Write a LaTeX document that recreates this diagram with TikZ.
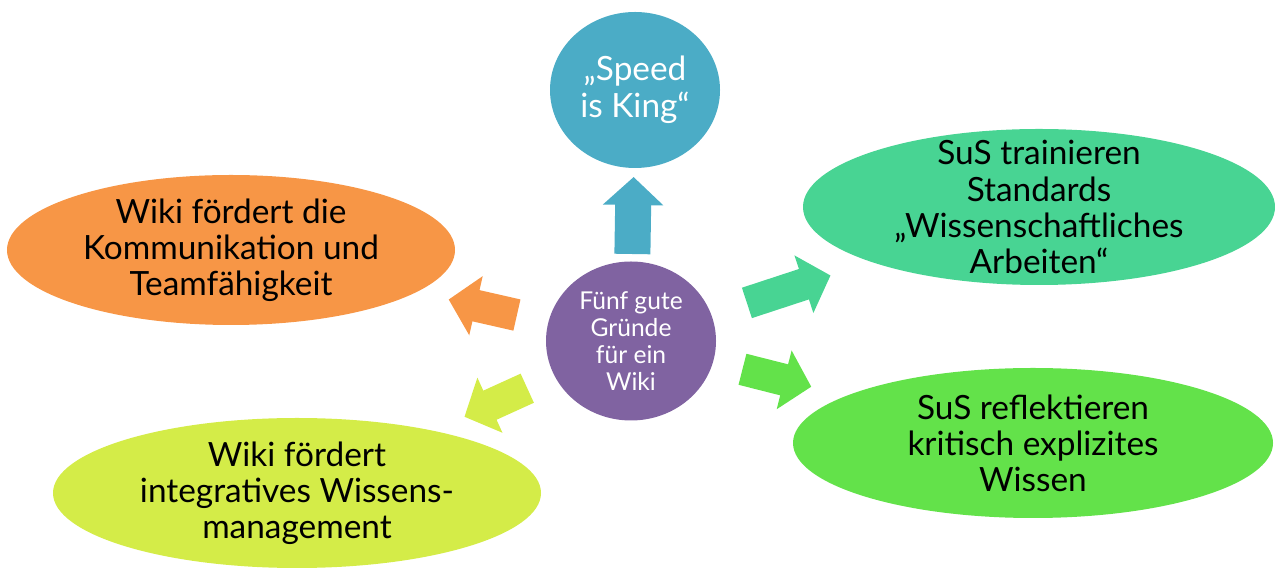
\documentclass[tikz,border=0pt]{standalone}
\usepackage{fontspec}
\setmainfont{Lato}
\usetikzlibrary{shapes.geometric,arrows.meta,calc}
\definecolor{hubpurple}{HTML}{8063A1}
\definecolor{speedblue}{HTML}{4BACC6}
\definecolor{kommorange}{HTML}{F79646}
\definecolor{stdgreen}{HTML}{48D493}
\definecolor{reflgreen}{HTML}{63E24A}
\definecolor{wissyellow}{HTML}{D4EC48}
\begin{document}
\begin{tikzpicture}
[font=\fontsize{19}{20.5}\selectfont]

\tikzstyle{bubble}=[ellipse, inner sep=0mm]
\tikzstyle{bubbletext}=[align=center, text=black]
\tikzstyle{blockarrow}=[line width=0.64cm, -{Triangle[length=0.56cm, width=1.18cm]}]

\useasboundingbox (0,0) rectangle (25.5,11.38);

% Mitte und Gruende
\node[bubble, fill=hubpurple, minimum width=3.4cm, minimum height=3.18cm,
      label={[align=center, text=white, font=\fontsize{14}{15.5}\selectfont]center:{Fünf gute\\Gründe\\für ein\\Wiki}}]
      (hub) at (12.62,4.56) {};
\node[bubble, fill=speedblue, minimum width=3.4cm, minimum height=3.12cm,
      label={[align=center, text=white, font=\fontsize{19}{21}\selectfont]center:{„Speed\\is King“}}]
      (speed) at (12.70,9.58) {};
\node[bubble, fill=kommorange, minimum width=8.96cm, minimum height=3.0cm,
      label={[bubbletext]center:{Wiki fördert die\\Kommunikation und\\Teamfähigkeit}}]
      (komm) at (4.62,6.38) {};
\node[bubble, fill=stdgreen, minimum width=9.44cm, minimum height=3.12cm,
      label={[bubbletext]center:{SuS trainieren\\Standards\\„Wissenschaftliches\\Arbeiten“}}]
      (std) at (20.78,7.24) {};
\node[bubble, fill=reflgreen, minimum width=9.6cm, minimum height=3.0cm,
      label={[bubbletext]center:{SuS reflektieren\\kritisch explizites\\Wissen}}]
      (refl) at (20.66,2.52) {};
\node[bubble, fill=wissyellow, minimum width=9.76cm, minimum height=3.0cm,
      label={[bubbletext]center:{Wiki fördert\\integratives Wissens-\\management}}]
      (wiss) at (5.94,1.52) {};

% Pfeile
\draw[blockarrow, speedblue, line width=0.72cm] ($(hub)!1.74cm!(speed)$) -- ($(hub)!3.28cm!(speed)$);
\draw[blockarrow, kommorange] ($(hub)!2.34cm!(komm)$) -- ($(hub)!3.74cm!(komm)$);
\draw[blockarrow, stdgreen]   ($(hub)!2.44cm!(std)$)  -- ($(hub)!4.20cm!(std)$);
\draw[blockarrow, reflgreen]  ($(hub)!2.30cm!(refl)$) -- ($(hub)!3.72cm!(refl)$);
\draw[blockarrow, wissyellow] ($(hub)!2.28cm!(wiss)$) -- ($(hub)!3.66cm!(wiss)$);
\end{tikzpicture}
\end{document}
